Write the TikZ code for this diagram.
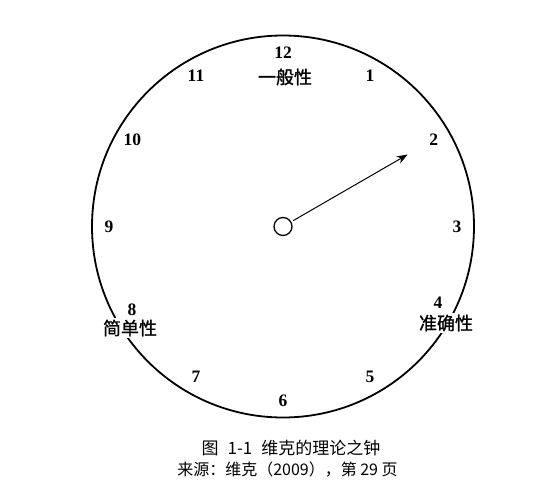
\documentclass[tikz,border=0pt]{standalone}
\usepackage{fontspec}
\setmainfont{Liberation Serif}
\newfontfamily\cjk{Noto Sans CJK SC}
\newfontfamily\cjktag[FakeBold=1.2]{Noto Sans CJK SC}
\usetikzlibrary{arrows.meta}
\begin{document}
\begin{tikzpicture}[x=1pt,y=1pt,font=\bfseries\fontsize{17.5}{17.5}\selectfont,line join=round,line cap=round,>=stealth,
	num/.style={inner sep=1pt},
	tag/.style={font=\cjktag\fontsize{18}{18}\selectfont,fill=white,inner sep=2pt},
	captext/.style={font=\cjk\fontsize{16}{16}\selectfont,inner sep=0pt}]
	\useasboundingbox (-283,-266.5) rectangle (263,226.5);
	\path
	(0,0) coordinate (O)
	(30:144) coordinate (H)
	;
	\draw[line width=1.8pt] (O) circle (191);
	\foreach \h in {1,2,3,5,6,7,9,10,11,12}
	\path (90-30*\h:174) node[num] (n\h) {\h};
	\node[num,fill=white] (n4) at (155,-76.5) {4};
	\node[num,fill=white] (n8) at (-151,-83.5) {8};
	\node[tag] (gen) at (2,149.5) {一般性};
	\node[tag] (acc) at (163,-96.5) {准确性};
	\node[tag] (sim) at (-153,-101.5) {简单性};
	\node[draw,circle,line width=1.3pt,minimum size=18pt,inner sep=0pt] (hub) at (O) {};
	\draw[-{Stealth[length=11pt,width=8pt]},line width=1pt,shorten <=12pt] (hub.center) -- (H);
	% caption
	\node[captext,font=\cjk\fontsize{17}{17}\selectfont] (c1) at (8,-221.5) {图\hskip9pt 1-1\hskip9pt 维克的理论之钟};
	\node[captext] (c2) at (4.5,-243.5) {来源：维克（2009），第 29 页};
\end{tikzpicture}
\end{document}
